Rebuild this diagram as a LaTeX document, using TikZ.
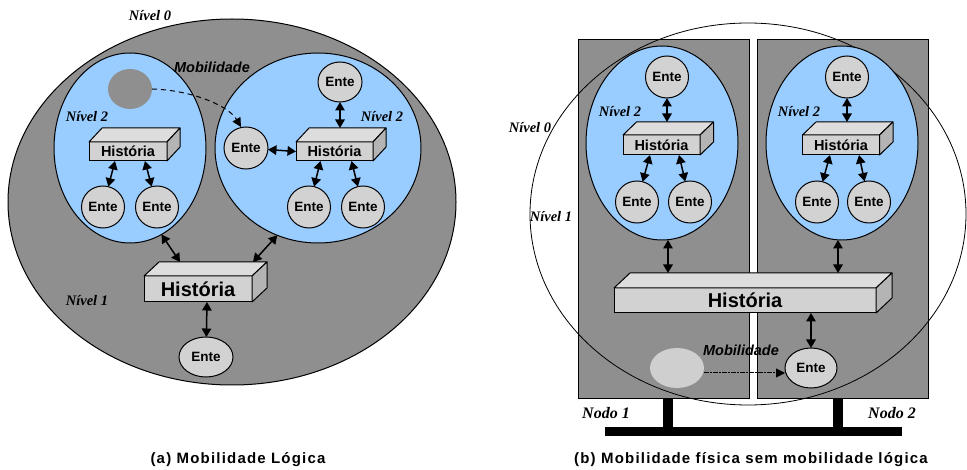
\documentclass[tikz,border=0pt]{standalone}
\usepackage{fontspec}
\setmainfont{Liberation Sans}
\newfontfamily\tnr{Liberation Serif}
\usetikzlibrary{arrows.meta,shapes.geometric}
\definecolor{bggray}{HTML}{8F8F8F}
\definecolor{lblue}{HTML}{99CCFF}
\definecolor{entefill}{HTML}{D2D2D2}
\definecolor{boxfront}{HTML}{D2D2D2}
\definecolor{boxtop}{HTML}{DDDDDD}
\definecolor{boxside}{HTML}{B4B4B4}
\definecolor{ghostb}{HTML}{CFCFCF}
\newcommand\histbox[7]{%
  \node[hfront,minimum width=#3pt,minimum height=#4pt,font=\fontsize{#7}{#7}\selectfont\bfseries] (#1) at (#2) {História};
  \draw[fill=boxtop,line width=1pt,line join=round] (#1.north west) -- ([xshift=#5pt,yshift=#6pt]#1.north west) -- ([xshift=#5pt,yshift=#6pt]#1.north east) -- (#1.north east) -- cycle;
  \draw[fill=boxside,line width=1pt,line join=round] (#1.north east) -- ([xshift=#5pt,yshift=#6pt]#1.north east) -- ([xshift=#5pt,yshift=#6pt]#1.south east) -- (#1.south east) -- cycle;}
\begin{document}
\begin{tikzpicture}[x=1pt,y=-1pt,
  ente/.style={ellipse,draw,fill=entefill,line width=1pt,inner sep=0pt,outer sep=0pt,font=\fontsize{13.5}{13.5}\selectfont\bfseries},
  hfront/.style={rectangle,draw,fill=boxfront,line width=1pt,inner sep=0pt,outer sep=0pt},
  blueell/.style={ellipse,draw,fill=lblue,line width=1pt,inner sep=0pt,outer sep=0pt},
  niv/.style={font=\tnr\fontsize{14.5}{14.5}\selectfont\bfseries\itshape},
  nodolbl/.style={font=\tnr\fontsize{16}{16}\selectfont\bfseries\itshape},
  mob/.style={font=\fontsize{14.5}{14.5}\selectfont\bfseries\itshape},
  captxt/.style={font=\fontsize{15}{15}\selectfont\bfseries\addfontfeature{LetterSpace=8}},
  dbl/.style={line width=1.5pt,{Triangle[width=9.5pt,length=8.5pt]}-{Triangle[width=9.5pt,length=8.5pt]}},
  nodobox/.style={rectangle,draw,fill=bggray,line width=0.8pt,inner sep=0pt,outer sep=0pt}]
\useasboundingbox (0,0) rectangle (967,470);

% ---------------- (a) ----------------
\draw[fill=bggray,line width=1pt] (232,202) ellipse [x radius=224,y radius=183];
\node[niv] (n0a) at (150,16) {Nível 0};
\node[blueell,minimum width=152pt,minimum height=190pt] (bL) at (130,148) {};
\node[blueell,minimum width=206pt,minimum height=190pt] (bR) at (318,148) {};
\node[ellipse,fill=bggray,minimum width=44pt,minimum height=40pt,inner sep=0pt,outer sep=0pt] (gh) at (130,89) {};
\node[mob] (moba) at (212,67) {Mobilidade};
\node[niv] (n2L) at (87,117) {Nível 2};
\node[niv] (n2R) at (382,117) {Nível 2};
\node[niv] (n1a) at (87,301) {Nível 1};

\histbox{hL}{128,151.5}{78}{19}{13}{14}{14.5}
\histbox{hR}{334.5,151.5}{77}{19}{13}{14}{14.5}
\histbox{bH}{198,289}{108}{26}{15}{14}{20}

\node[ente,minimum width=43pt,minimum height=42pt] (eL1) at (103,207) {Ente};
\node[ente,minimum width=43pt,minimum height=42pt] (eL2) at (157,207) {Ente};
\node[ente,minimum width=44pt,minimum height=40pt] (eRt) at (340,82) {Ente};
\node[ente,minimum width=44pt,minimum height=42pt] (eRm) at (246,148) {Ente};
\node[ente,minimum width=43pt,minimum height=42pt] (eR1) at (309,207) {Ente};
\node[ente,minimum width=43pt,minimum height=42pt] (eR2) at (363,207) {Ente};
\node[ente,minimum width=54pt,minimum height=40pt] (eB) at (206,357) {Ente};

\draw[dbl] ([xshift=-13pt]hL.south) -- (eL1);
\draw[dbl] ([xshift=17pt]hL.south) -- (eL2);
\draw[dbl] ([xshift=-14pt]hR.south) -- (eR1);
\draw[dbl] ([xshift=17pt]hR.south) -- (eR2);
\draw[dbl] (eRt) -- ([xshift=5.5pt,yshift=14pt]hR.north);
\draw[dbl] (eRm) -- (hR.west);
\draw[dbl] (bL.-70) -- ([xshift=-18pt,yshift=14pt]bH.north);
\draw[dbl] (bR.-115) -- ([xshift=55pt,yshift=14pt]bH.north);
\draw[dbl] ([xshift=9pt]bH.south) -- (eB);
\draw[line width=1pt,dash pattern=on 5pt off 4pt,-{Triangle[width=9pt,length=9pt]}]
  (gh.east) .. controls (190,90) and (228,105) .. ([xshift=-5pt]eRm.north);

\node[captxt] (capa) at (238,460) {(a) Mobilidade Lógica};

% ---------------- (b) ----------------
\node[nodobox,minimum width=171pt,minimum height=359pt] (nd1) at (663.5,218.5) {};
\node[nodobox,minimum width=171pt,minimum height=359pt] (nd2) at (842.5,218.5) {};
\draw[line width=0.8pt] (748,214) ellipse [x radius=218,y radius=191];
\node[blueell,minimum width=152pt,minimum height=194pt] (bBL) at (662,143) {};
\node[blueell,minimum width=152pt,minimum height=194pt] (bBR) at (842,143) {};
\node[niv] (n2BL) at (620,112) {Nível 2};
\node[niv] (n2BR) at (799,112) {Nível 2};
\node[niv] (n0b) at (530,128) {Nível 0};
\node[niv] (n1b) at (551,217) {Nível 1};

\histbox{hBL}{661.5,145}{77}{20}{13.5}{13}{14.5}
\histbox{hBR}{841,145}{77}{20}{13.5}{13}{14.5}
\histbox{hB}{745,300.5}{262}{25}{16}{15}{20}

\node[ente,minimum width=43pt,minimum height=42pt] (eBLt) at (667,77) {Ente};
\node[ente,minimum width=43pt,minimum height=42pt] (eBL1) at (637,202) {Ente};
\node[ente,minimum width=43pt,minimum height=42pt] (eBL2) at (690,202) {Ente};
\node[ente,minimum width=43pt,minimum height=42pt] (eBRt) at (847,77) {Ente};
\node[ente,minimum width=43pt,minimum height=42pt] (eBR1) at (817,202) {Ente};
\node[ente,minimum width=43pt,minimum height=42pt] (eBR2) at (869,202) {Ente};
\node[ente,minimum width=52pt,minimum height=40pt] (eBb) at (811,368) {Ente};
\node[ellipse,fill=ghostb,minimum width=54pt,minimum height=40pt,inner sep=0pt,outer sep=0pt] (ghB) at (677,368) {};

\draw[dbl] (eBLt) -- ([xshift=5.5pt,yshift=13pt]hBL.north);
\draw[dbl] ([xshift=-11.5pt]hBL.south) -- (eBL1);
\draw[dbl] ([xshift=17.5pt]hBL.south) -- (eBL2);
\draw[dbl] (eBRt) -- ([xshift=6pt,yshift=13pt]hBR.north);
\draw[dbl] ([xshift=-11pt]hBR.south) -- (eBR1);
\draw[dbl] ([xshift=18pt]hBR.south) -- (eBR2);
\draw[dbl] ([xshift=6pt]bBL.south) -- ([xshift=-77pt,yshift=15pt]hB.north);
\draw[dbl] ([xshift=-4pt]bBR.south) -- ([xshift=93pt,yshift=15pt]hB.north);
\draw[dbl] ([xshift=66pt]hB.south) -- (eBb);
\draw[line width=1pt,dash pattern=on 4.5pt off 1.5pt on 1.5pt off 1.5pt,-{Triangle[width=9pt,length=9pt]}]
  ([yshift=-5pt]ghB.east) -- ([yshift=-5pt]eBb.west);
\node[mob] (mobb) at (741,350) {Mobilidade};

\fill (663,398) rectangle (673,432);
\fill (833,398) rectangle (843,432);
\fill (605,427) rectangle (902,436);
\node[nodolbl] (nodo1) at (606,413) {Nodo 1};
\node[nodolbl] (nodo2) at (892,413) {Nodo 2};

\node[captxt] (capb) at (751,460) {(b) Mobilidade física sem mobilidade lógica};
\end{tikzpicture}
\end{document}
